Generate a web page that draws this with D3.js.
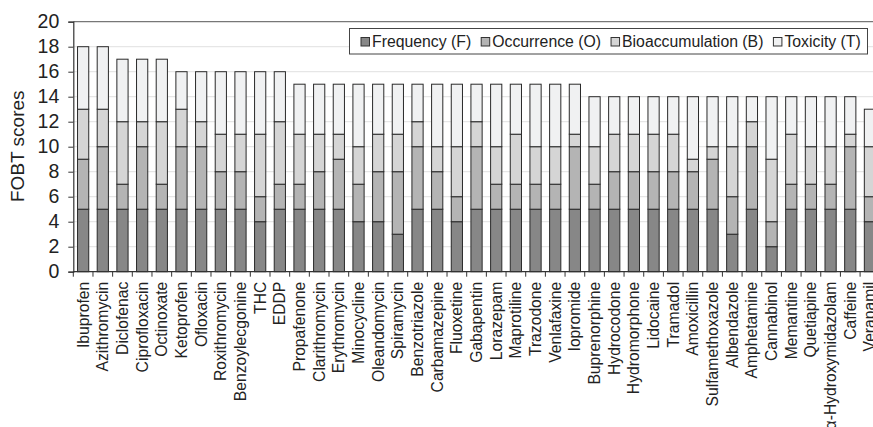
<!DOCTYPE html>
<html>
<head>
<meta charset="utf-8">
<script src="https://cdn.jsdelivr.net/npm/d3@7"></script>
<style>
  html, body { margin: 0; padding: 0; background: #fff; overflow: hidden; }
  svg { display: block; font-family: "Liberation Sans", Arial, sans-serif; }
</style>
</head>
<body>
<svg id="chart" width="873" height="427"></svg>
<script>
// Compounds, ranked by total FOBT score
const compounds = [
  "Ibuprofen", "Azithromycin", "Diclofenac", "Ciprofloxacin", "Octinoxate",
  "Ketoprofen", "Ofloxacin", "Roxithromycin", "Benzoylecgonine", "THC", "EDDP",
  "Propafenone", "Clarithromycin", "Erythromycin", "Minocycline", "Oleandomycin",
  "Spiramycin", "Benzotriazole", "Carbamazepine", "Fluoxetine", "Gabapentin",
  "Lorazepam", "Maprotiline", "Trazodone", "Venlafaxine", "Iopromide",
  "Buprenorphine", "Hydrocodone", "Hydromorphone", "Lidocaine", "Tramadol",
  "Amoxicillin", "Sulfamethoxazole", "Albendazole", "Amphetamine", "Cannabinol",
  "Memantine", "Quetiapine", "α-Hydroxymidazolam", "Caffeine", "Verapamil"
];

// Component scores per compound
const frequency = [5,5,5,5,5, 5,5,5,5,4,5, 5,5,5,4,4, 3,5,5,4,5, 5,5,5,5,5, 5,5,5,5,5, 5,5,3,5,2, 5,5,5,5,4];
const occurrence = [4,5,2,5,2, 5,5,3,3,2,2, 2,3,4,3,4, 5,5,3,2,5, 2,2,2,2,5, 2,3,3,3,3, 3,4,3,5,2, 2,2,2,5,2];
const bioaccumulation = [4,3,5,2,5, 3,2,3,3,5,5, 4,3,2,3,3, 3,2,2,4,2, 3,4,3,3,1, 3,3,3,3,3, 1,1,4,2,5, 4,3,3,1,4];
const toxicity = [5,5,5,5,5, 3,4,5,5,5,4, 4,4,4,5,4, 4,3,5,5,3, 5,4,5,5,4, 4,3,3,3,3, 5,4,4,2,5, 3,4,4,3,3];

const seriesKeys = ["F", "O", "B", "T"];
const seriesNames = ["Frequency (F)", "Occurrence (O)", "Bioaccumulation (B)", "Toxicity (T)"];
const seriesColors = ["#878787", "#b4b4b4", "#d5d5d5", "#f0f1f2"];

const yTicks = [0, 2, 4, 6, 8, 10, 12, 14, 16, 18, 20];
const yLabel = "FOBT scores";

const rows = compounds.map((name, i) => ({
  name, F: frequency[i], O: occurrence[i], B: bioaccumulation[i], T: toxicity[i]
}));

const svg = d3.select("#chart");
const plotLeft = 73.3, plotTop = 21.7, plotBottom = 271.7;
const step = 19.67;
const plotRight = plotLeft + step * compounds.length;

const x = d3.scaleBand()
  .domain(compounds)
  .range([plotLeft, plotRight])
  .paddingInner(0.43)
  .paddingOuter(0.215);

const y = d3.scaleLinear().domain([0, 20]).range([plotBottom, plotTop]);

// Horizontal grid
svg.append("g")
  .selectAll("line")
  .data(yTicks.filter(t => t > 0 && t < 20))
  .join("line")
  .attr("x1", plotLeft).attr("x2", 873 + 20)
  .attr("y1", d => y(d)).attr("y2", d => y(d))
  .attr("stroke", "#e6e6e6").attr("stroke-width", 1.2);

// Upper frame line
svg.append("line")
  .attr("x1", plotLeft).attr("x2", 873 + 20)
  .attr("y1", y(20)).attr("y2", y(20))
  .attr("stroke", "#777").attr("stroke-width", 1.3);

// Stacked bars
const stacked = d3.stack().keys(seriesKeys)(rows);
svg.append("g")
  .selectAll("g")
  .data(stacked)
  .join("g")
  .attr("fill", (d, i) => seriesColors[i])
  .selectAll("rect")
  .data(d => d)
  .join("rect")
  .attr("x", d => x(d.data.name))
  .attr("width", x.bandwidth())
  .attr("y", d => y(d[1]))
  .attr("height", d => y(d[0]) - y(d[1]))
  .attr("stroke", "#2a2a2a")
  .attr("stroke-width", 1);

// Y axis
const yAxis = svg.append("g")
  .attr("transform", `translate(${plotLeft},0)`)
  .call(d3.axisLeft(y).tickValues(yTicks).tickSize(5).tickPadding(9));
yAxis.select(".domain").attr("stroke", "#333").attr("stroke-width", 1.2);
yAxis.selectAll(".tick line").attr("stroke", "#333");
yAxis.selectAll("text")
  .attr("font-size", 19.5)
  .attr("font-family", "Liberation Sans, Arial, sans-serif")
  .attr("fill", "#222");

svg.append("text")
  .attr("transform", `translate(23.5,${(plotTop + plotBottom) / 2 - 0.5}) rotate(-90)`)
  .attr("text-anchor", "middle")
  .attr("font-size", 19)
  .attr("fill", "#222")
  .text(yLabel);

// X axis line with ticks at band boundaries
const xAxis = svg.append("g");
xAxis.append("line")
  .attr("x1", plotLeft).attr("x2", 873 + 20)
  .attr("y1", plotBottom).attr("y2", plotBottom)
  .attr("stroke", "#333").attr("stroke-width", 1.2);
xAxis.selectAll("line.tick")
  .data(compounds)
  .join("line")
  .attr("class", "tick")
  .attr("x1", d => x(d) + x.bandwidth() / 2 - x.step() / 2)
  .attr("x2", d => x(d) + x.bandwidth() / 2 - x.step() / 2)
  .attr("y1", plotBottom).attr("y2", plotBottom + 5)
  .attr("stroke", "#333");
xAxis.selectAll("text")
  .data(compounds)
  .join("text")
  .attr("transform", d => `translate(${x(d) + x.bandwidth() / 2},${plotBottom + 10}) rotate(-90)`)
  .attr("text-anchor", "end")
  .attr("dy", "0.35em")
  .attr("font-size", 15.7)
  .attr("fill", "#222")
  .text(d => d);

// Legend
const legend = svg.append("g");
legend.append("rect")
  .attr("x", 349.5).attr("y", 28.5).attr("width", 518).attr("height", 25.5)
  .attr("fill", "#fff").attr("stroke", "#444").attr("stroke-width", 1);
let lx = 361;
seriesNames.forEach((name, i) => {
  legend.append("rect")
    .attr("x", lx).attr("y", 37.5).attr("width", 8.5).attr("height", 8.5)
    .attr("fill", seriesColors[i]).attr("stroke", "#333").attr("stroke-width", 1);
  const t = legend.append("text")
    .attr("x", lx + 11).attr("y", 46.7)
    .attr("font-size", 15.8)
    .attr("fill", "#222")
    .text(name);
  lx += 11 + t.node().getComputedTextLength() + 10;
});
</script>
</body>
</html>
